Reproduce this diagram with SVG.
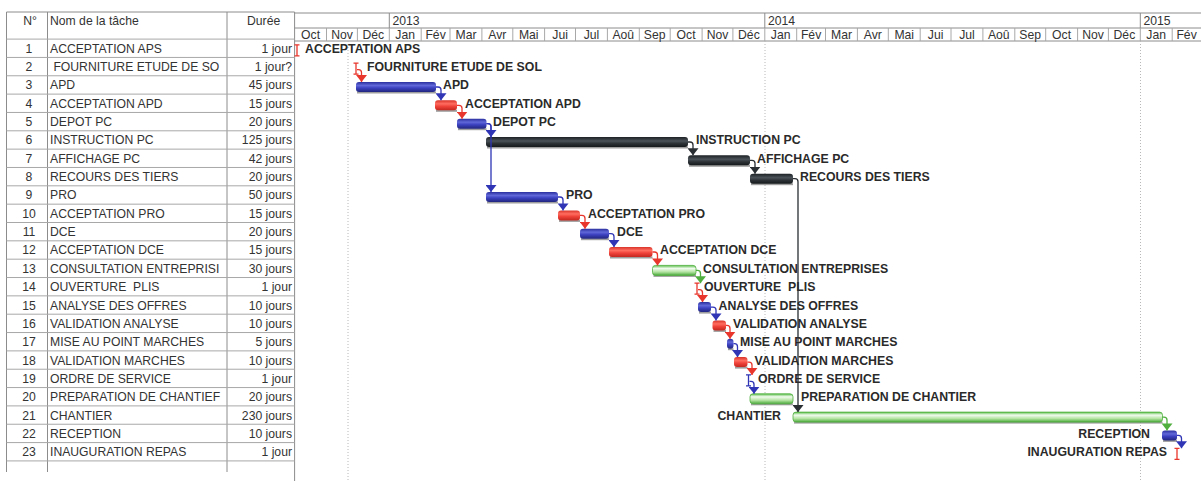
<svg xmlns="http://www.w3.org/2000/svg" width="1201" height="481" viewBox="0 0 1201 481">
<style>
.t{font-family:"Liberation Sans",Arial,sans-serif;font-size:12.2px;fill:#333}
.c{text-anchor:middle}
.r{text-anchor:end}
.lb{font-family:"Liberation Sans",Arial,sans-serif;font-size:12.3px;font-weight:bold;fill:#2a2a2a}
.grid{stroke:#a8a8a8;stroke-width:1;fill:none}
.hd{stroke:#8c8c8c;stroke-width:1;fill:none}
.dot{stroke:#b8b8b8;stroke-width:1;stroke-dasharray:1 2;fill:none}
.sh{fill:#7d7d7d;opacity:.75}
.blue{fill:url(#gB)}
.red{fill:url(#gR)}
.blk{fill:url(#gK)}
.grn{fill:url(#gG);stroke:#4fae3e;stroke-width:.8}
.lk{fill:none;stroke-width:1.3}
.lkB{stroke:#2f35b5;marker-end:url(#aB)}
.lkR{stroke:#e8362c;marker-end:url(#aR)}
.lkK{stroke:#2a2f33;marker-end:url(#aK)}
.lkG{stroke:#4fae3e;marker-end:url(#aG)}
.msR{stroke:#e8362c;stroke-width:1.3;fill:none}
.msB{stroke:#2f35b5;stroke-width:1.3;fill:none}
</style>
<defs>
<linearGradient id="gB" x1="0" y1="0" x2="0" y2="1"><stop offset="0" stop-color="#2a2f9e"/><stop offset=".35" stop-color="#6067d8"/><stop offset=".6" stop-color="#3b41bf"/><stop offset="1" stop-color="#22267e"/></linearGradient>
<linearGradient id="gR" x1="0" y1="0" x2="0" y2="1"><stop offset="0" stop-color="#d9342a"/><stop offset=".35" stop-color="#ff6d60"/><stop offset=".6" stop-color="#f0433a"/><stop offset="1" stop-color="#c22820"/></linearGradient>
<linearGradient id="gK" x1="0" y1="0" x2="0" y2="1"><stop offset="0" stop-color="#1c2124"/><stop offset=".4" stop-color="#4b5359"/><stop offset=".65" stop-color="#2c3236"/><stop offset="1" stop-color="#15191b"/></linearGradient>
<linearGradient id="gG" x1="0" y1="0" x2="0" y2="1"><stop offset="0" stop-color="#5cbf4a"/><stop offset=".3" stop-color="#f2fbef"/><stop offset=".65" stop-color="#b4e4a2"/><stop offset="1" stop-color="#48a83a"/></linearGradient>
<marker id="aB" markerUnits="userSpaceOnUse" viewBox="0 0 7 11" refX="7" refY="5.5" markerWidth="7" markerHeight="11" orient="auto"><path d="M0,0 L7,5.5 L0,11 z" fill="#2f35b5"/></marker>
<marker id="aR" markerUnits="userSpaceOnUse" viewBox="0 0 7 11" refX="7" refY="5.5" markerWidth="7" markerHeight="11" orient="auto"><path d="M0,0 L7,5.5 L0,11 z" fill="#e8362c"/></marker>
<marker id="aK" markerUnits="userSpaceOnUse" viewBox="0 0 7 11" refX="7" refY="5.5" markerWidth="7" markerHeight="11" orient="auto"><path d="M0,0 L7,5.5 L0,11 z" fill="#2a2f33"/></marker>
<marker id="aG" markerUnits="userSpaceOnUse" viewBox="0 0 7 11" refX="7" refY="5.5" markerWidth="7" markerHeight="11" orient="auto"><path d="M0,0 L7,5.5 L0,11 z" fill="#4fae3e"/></marker>
</defs>
<rect width="1201" height="481" fill="#fff"/>

<g id="table">
<path class="hd" d="M6.5,12 H294.6 M6.5,12 V472 M47.5,12 V472 M227,12 V472 M294.6,12 V481"/>
<path class="grid" d="M6.5,39.1H294.6 M6.5,57.44H294.6 M6.5,75.78H294.6 M6.5,94.12H294.6 M6.5,112.46H294.6 M6.5,130.8H294.6 M6.5,149.14H294.6 M6.5,167.48H294.6 M6.5,185.82H294.6 M6.5,204.16H294.6 M6.5,222.5H294.6 M6.5,240.84H294.6 M6.5,259.18H294.6 M6.5,277.52H294.6 M6.5,295.86H294.6 M6.5,314.2H294.6 M6.5,332.54H294.6 M6.5,350.88H294.6 M6.5,369.22H294.6 M6.5,387.56H294.6 M6.5,405.9H294.6 M6.5,424.24H294.6 M6.5,442.58H294.6 M6.5,460.92H294.6"/>
<text class="t c" x="30" y="25">N°</text>
<text class="t" x="50" y="25">Nom de la tâche</text>
<text class="t" x="247" y="25">Durée</text>
<g>
<text class="t c" x="29" y="52.7">1</text><text class="t c" x="29" y="71">2</text><text class="t c" x="29" y="89.4">3</text><text class="t c" x="29" y="107.7">4</text><text class="t c" x="29" y="126.1">5</text><text class="t c" x="29" y="144.4">6</text><text class="t c" x="29" y="162.7">7</text><text class="t c" x="29" y="181.1">8</text><text class="t c" x="29" y="199.4">9</text><text class="t c" x="29" y="217.8">10</text><text class="t c" x="29" y="236.1">11</text><text class="t c" x="29" y="254.4">12</text><text class="t c" x="29" y="272.8">13</text><text class="t c" x="29" y="291.1">14</text><text class="t c" x="29" y="309.5">15</text><text class="t c" x="29" y="327.8">16</text><text class="t c" x="29" y="346.1">17</text><text class="t c" x="29" y="364.5">18</text><text class="t c" x="29" y="382.8">19</text><text class="t c" x="29" y="401.2">20</text><text class="t c" x="29" y="419.5">21</text><text class="t c" x="29" y="437.8">22</text><text class="t c" x="29" y="456.2">23</text>
</g>
<text class="t" x="50" y="52.7">ACCEPTATION APS</text>
<text class="t" x="50" y="71" xml:space="preserve"> FOURNITURE ETUDE DE SO</text>
<text class="t" x="50" y="89.4">APD</text>
<text class="t" x="50" y="107.7">ACCEPTATION APD</text>
<text class="t" x="50" y="126.1">DEPOT PC</text>
<text class="t" x="50" y="144.4">INSTRUCTION PC</text>
<text class="t" x="50" y="162.7">AFFICHAGE PC</text>
<text class="t" x="50" y="181.1">RECOURS DES TIERS</text>
<text class="t" x="50" y="199.4">PRO</text>
<text class="t" x="50" y="217.8">ACCEPTATION PRO</text>
<text class="t" x="50" y="236.1">DCE</text>
<text class="t" x="50" y="254.4">ACCEPTATION DCE</text>
<text class="t" x="50" y="272.8">CONSULTATION ENTREPRISI</text>
<text class="t" x="50" y="291.1" xml:space="preserve">OUVERTURE  PLIS</text>
<text class="t" x="50" y="309.5">ANALYSE DES OFFRES</text>
<text class="t" x="50" y="327.8">VALIDATION ANALYSE</text>
<text class="t" x="50" y="346.1">MISE AU POINT MARCHES</text>
<text class="t" x="50" y="364.5">VALIDATION MARCHES</text>
<text class="t" x="50" y="382.8">ORDRE DE SERVICE</text>
<text class="t" x="50" y="401.2">PREPARATION DE CHANTIEF</text>
<text class="t" x="50" y="419.5">CHANTIER</text>
<text class="t" x="50" y="437.8">RECEPTION</text>
<text class="t" x="50" y="456.2">INAUGURATION REPAS</text>
<text class="t r" x="292" y="52.7">1 jour</text>
<text class="t r" x="292" y="71">1 jour?</text>
<text class="t r" x="292" y="89.4">45 jours</text>
<text class="t r" x="292" y="107.7">15 jours</text>
<text class="t r" x="292" y="126.1">20 jours</text>
<text class="t r" x="292" y="144.4">125 jours</text>
<text class="t r" x="292" y="162.7">42 jours</text>
<text class="t r" x="292" y="181.1">20 jours</text>
<text class="t r" x="292" y="199.4">50 jours</text>
<text class="t r" x="292" y="217.8">15 jours</text>
<text class="t r" x="292" y="236.1">20 jours</text>
<text class="t r" x="292" y="254.4">15 jours</text>
<text class="t r" x="292" y="272.8">30 jours</text>
<text class="t r" x="292" y="291.1">1 jour</text>
<text class="t r" x="292" y="309.5">10 jours</text>
<text class="t r" x="292" y="327.8">10 jours</text>
<text class="t r" x="292" y="346.1">5 jours</text>
<text class="t r" x="292" y="364.5">10 jours</text>
<text class="t r" x="292" y="382.8">1 jour</text>
<text class="t r" x="292" y="401.2">20 jours</text>
<text class="t r" x="292" y="419.5">230 jours</text>
<text class="t r" x="292" y="437.8">10 jours</text>
<text class="t r" x="292" y="456.2">1 jour</text>
</g>

<g id="timescale">
<path class="hd" d="M294.6,13H1201 M294.6,28H1201 M294.6,41H1201 M389.3,13V28 M764.8,13V28 M1140.3,13V28"/>
<path class="grid" d="M326.5,28V41 M357.4,28V41 M389.3,28V41 M421.2,28V41 M450,28V41 M481.9,28V41 M512.8,28V41 M544.6,28V41 M575.5,28V41 M607.4,28V41 M639.3,28V41 M670.2,28V41 M702.1,28V41 M732.9,28V41 M764.8,28V41 M796.7,28V41 M825.5,28V41 M857.4,28V41 M888.3,28V41 M920.2,28V41 M951,28V41 M982.9,28V41 M1014.8,28V41 M1045.7,28V41 M1077.6,28V41 M1108.4,28V41 M1140.3,28V41 M1172.2,28V41"/>
<text class="t" x="392.5" y="24.5">2013</text>
<text class="t" x="768" y="24.5">2014</text>
<text class="t" x="1143.5" y="24.5">2015</text>
<text class="t c" x="310.6" y="39">Oct</text><text class="t c" x="342" y="39">Nov</text><text class="t c" x="373.3" y="39">Déc</text>
<text class="t c" x="405.2" y="39">Jan</text><text class="t c" x="435.6" y="39">Fév</text><text class="t c" x="466" y="39">Mar</text><text class="t c" x="497.3" y="39">Avr</text><text class="t c" x="528.7" y="39">Mai</text><text class="t c" x="560.1" y="39">Jui</text><text class="t c" x="591.5" y="39">Jul</text><text class="t c" x="623.3" y="39">Aoû</text><text class="t c" x="654.7" y="39">Sep</text><text class="t c" x="686.1" y="39">Oct</text><text class="t c" x="717.5" y="39">Nov</text><text class="t c" x="748.9" y="39">Déc</text>
<text class="t c" x="780.7" y="39">Jan</text><text class="t c" x="811.1" y="39">Fév</text><text class="t c" x="841.5" y="39">Mar</text><text class="t c" x="872.8" y="39">Avr</text><text class="t c" x="904.2" y="39">Mai</text><text class="t c" x="935.6" y="39">Jui</text><text class="t c" x="967" y="39">Jul</text><text class="t c" x="998.8" y="39">Aoû</text><text class="t c" x="1030.2" y="39">Sep</text><text class="t c" x="1061.6" y="39">Oct</text><text class="t c" x="1093" y="39">Nov</text><text class="t c" x="1124.4" y="39">Déc</text>
<text class="t c" x="1156.2" y="39">Jan</text><text class="t c" x="1186.6" y="39">Fév</text>
<path class="dot" d="M348,41V481 M765,41V481 M1140.5,41V481"/>
</g>

<g id="task-1"><path class="msR" d="M294.5,44.8h5 M297,44.8V55.8 M294.5,55.8h5"/><text class="lb" x="305" y="52.7">ACCEPTATION APS</text></g>
<g id="task-2"><path class="msR" d="M353.5,63.1h5 M356,63.1V74.1 M353.5,74.1h5"/><text class="lb" x="367" y="71">FOURNITURE ETUDE DE SOL</text></g>
<g id="task-3"><rect class="sh" x="357" y="91.5" width="79" height="2"/><rect class="blue" x="356" y="82" width="80" height="10" rx="3"/><text class="lb" x="443" y="89.4">APD</text></g>
<g id="task-4"><rect class="sh" x="436" y="109.8" width="21" height="2"/><rect class="red" x="435" y="100.3" width="22" height="10" rx="3"/><text class="lb" x="465" y="107.7">ACCEPTATION APD</text></g>
<g id="task-5"><rect class="sh" x="458" y="128.2" width="28.5" height="2"/><rect class="blue" x="457" y="118.7" width="29.5" height="10" rx="3"/><text class="lb" x="493" y="126.1">DEPOT PC</text></g>
<g id="task-6"><rect class="sh" x="487" y="146.5" width="201" height="2"/><rect class="blk" x="486" y="137" width="202" height="10" rx="3"/><text class="lb" x="696" y="144.4">INSTRUCTION PC</text></g>
<g id="task-7"><rect class="sh" x="689" y="164.8" width="61" height="2"/><rect class="blk" x="688" y="155.3" width="62" height="10" rx="3"/><text class="lb" x="757" y="162.7">AFFICHAGE PC</text></g>
<g id="task-8"><rect class="sh" x="751" y="183.2" width="42" height="2"/><rect class="blk" x="750" y="173.7" width="43" height="10" rx="3"/><text class="lb" x="800" y="181.1">RECOURS DES TIERS</text></g>
<g id="task-9"><rect class="sh" x="487" y="201.5" width="71" height="2"/><rect class="blue" x="486" y="192" width="72" height="10" rx="3"/><text class="lb" x="566" y="199.4">PRO</text></g>
<g id="task-10"><rect class="sh" x="559" y="219.9" width="21" height="2"/><rect class="red" x="558" y="210.4" width="22" height="10" rx="3"/><text class="lb" x="588" y="217.8">ACCEPTATION PRO</text></g>
<g id="task-11"><rect class="sh" x="581" y="238.2" width="28" height="2"/><rect class="blue" x="580" y="228.7" width="29" height="10" rx="3"/><text class="lb" x="617" y="236.1">DCE</text></g>
<g id="task-12"><rect class="sh" x="610" y="256.5" width="42.5" height="2"/><rect class="red" x="609" y="247" width="43.5" height="10" rx="3"/><text class="lb" x="660" y="254.4">ACCEPTATION DCE</text></g>
<g id="task-13"><rect class="sh" x="653.5" y="274.9" width="42.5" height="2"/><rect class="grn" x="652.5" y="265.4" width="43.5" height="10" rx="3"/><text class="lb" x="703" y="272.8">CONSULTATION ENTREPRISES</text></g>
<g id="task-14"><path class="msR" d="M694.5,283.2h5 M697,283.2V294.2 M694.5,294.2h5"/><text class="lb" x="704" y="291.1" xml:space="preserve">OUVERTURE  PLIS</text></g>
<g id="task-15"><rect class="sh" x="699" y="311.6" width="12" height="2"/><rect class="blue" x="698" y="302.1" width="13" height="10" rx="3"/><text class="lb" x="718.5" y="309.5">ANALYSE DES OFFRES</text></g>
<g id="task-16"><rect class="sh" x="713.5" y="329.9" width="12.5" height="2"/><rect class="red" x="712.5" y="320.4" width="13.5" height="10" rx="3"/><text class="lb" x="733" y="327.8">VALIDATION ANALYSE</text></g>
<g id="task-17"><rect class="sh" x="728" y="348.2" width="5.5" height="2"/><rect class="blue" x="727" y="338.7" width="6.5" height="10" rx="3"/><text class="lb" x="740" y="346.1">MISE AU POINT MARCHES</text></g>
<g id="task-18"><rect class="sh" x="735" y="366.6" width="12.5" height="2"/><rect class="red" x="734" y="357.1" width="13.5" height="10" rx="3"/><text class="lb" x="754.5" y="364.5">VALIDATION MARCHES</text></g>
<g id="task-19"><path class="msB" d="M746,374.9h5 M748.5,374.9V385.9 M746,385.9h5"/><text class="lb" x="758" y="382.8">ORDRE DE SERVICE</text></g>
<g id="task-20"><rect class="sh" x="751" y="403.3" width="42" height="2"/><rect class="grn" x="750" y="393.8" width="43" height="10" rx="3"/><text class="lb" x="801" y="401.2">PREPARATION DE CHANTIER</text></g>
<g id="task-21"><rect class="sh" x="794" y="421.6" width="368.5" height="2"/><rect class="grn" x="793" y="412.1" width="369.5" height="10" rx="3"/><text class="lb r" x="781" y="419.5">CHANTIER</text></g>
<g id="task-22"><rect class="sh" x="1163" y="439.9" width="14" height="2"/><rect class="blue" x="1162" y="430.4" width="15" height="10" rx="3"/><text class="lb r" x="1150" y="437.8">RECEPTION</text></g>
<g id="task-23"><path class="msR" d="M1174.5,448.3h5 M1177,448.3V459.3 M1174.5,459.3h5"/><text class="lb r" x="1167" y="456.2">INAUGURATION REPAS</text></g>

<g id="connectors">
<path class="lk lkR" d="M357,69.6h1.5q3,0 3,3V82"/>
<path class="lk lkB" d="M436,87h2q3,0 3,3V100.3"/>
<path class="lk lkR" d="M457,105.3h2q3,0 3,3V118.7"/>
<path class="lk lkB" d="M486.5,123.7h1.5q3,0 3,3V137"/>
<path class="lk lkB" d="M486.5,123.7h1.5q3,0 3,3V192"/>
<path class="lk lkK" d="M688,142h2q3,0 3,3V155.3"/>
<path class="lk lkK" d="M750,160.3h2q3,0 3,3V173.7"/>
<path class="lk lkK" d="M793,178.7h2q3,0 3,3V412.1"/>
<path class="lk lkB" d="M558,197h2q3,0 3,3V210.4"/>
<path class="lk lkR" d="M580,215.4h2q3,0 3,3V228.7"/>
<path class="lk lkB" d="M609,233.7h2q3,0 3,3V247"/>
<path class="lk lkR" d="M652.5,252h2q3,0 3,3V265.4"/>
<path class="lk lkG" d="M696,270.4h1.5q3,0 3,3V283.2"/>
<path class="lk lkR" d="M698,289.7h1.5q3,0 3,3V302.1"/>
<path class="lk lkB" d="M711,307.1h2q3,0 3,3V320.4"/>
<path class="lk lkR" d="M726,325.4h1q3,0 3,3V338.7"/>
<path class="lk lkB" d="M733.5,343.7h1q3,0 3,3V357.1"/>
<path class="lk lkR" d="M747.5,362.1h1.5q3,0 3,3V374.9"/>
<path class="lk lkB" d="M749.5,381.4h1.5q3,0 3,3V393.8"/>
<path class="lk lkG" d="M1162.5,417.1h1.5q3,0 3,3V430.4"/>
<path class="lk lkB" d="M1177,435.4h1.5q3,0 3,3V448.3"/>
</g>
</svg>
